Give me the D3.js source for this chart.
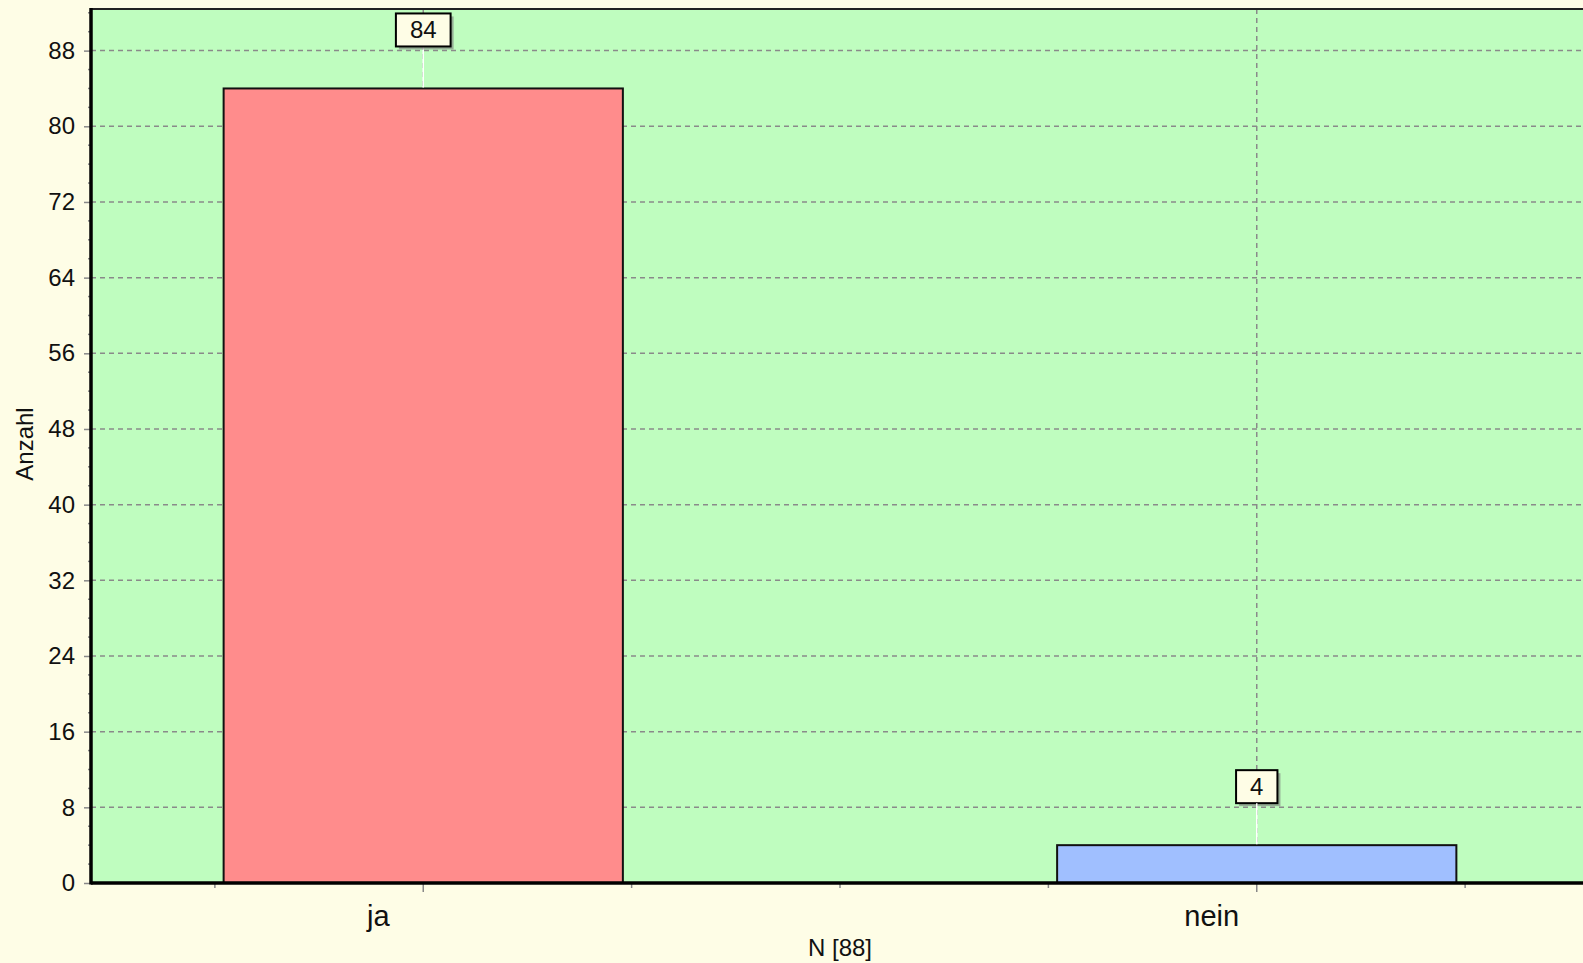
<!DOCTYPE html>
<html>
<head>
<meta charset="utf-8">
<script src="https://cdn.jsdelivr.net/npm/d3@7"></script>
<style>
  html, body { margin: 0; padding: 0; overflow: hidden; background: #FEFDE6; }
  svg { display: block; }
  text { font-family: "Liberation Sans", Arial, sans-serif; fill: #111; }
</style>
</head>
<body>
<svg id="chart" width="1583" height="963"></svg>
<script>
const categories = ["ja", "nein"];
const values = [84, 4];
const barColors = ["#FF8C8C", "#A0BFFF"];
const yTickValues = [0, 8, 16, 24, 32, 40, 48, 56, 64, 72, 80, 88];
const xTitle = "N [88]";
const yTitle = "Anzahl";

const W = 1583, H = 963;
const plotLeft = 91, plotTop = 9, plotBottom = 883;
const svg = d3.select("#chart");

const yMax = d3.max(values) * 1.1;
const y = d3.scaleLinear().domain([0, yMax]).range([plotBottom, plotTop]);
const x = d3.scaleBand().domain(categories).range([6.5, 1673.5]).paddingInner(0).paddingOuter(0);
const barW = x.bandwidth() * 0.479;
const cx = c => x(c) + x.bandwidth() / 2;

// plot background
svg.append("rect").attr("x", plotLeft).attr("y", plotTop)
  .attr("width", 1673.5 - plotLeft).attr("height", plotBottom - plotTop)
  .attr("fill", "#BFFDBF");

// horizontal grid
svg.append("g").selectAll("line").data(yTickValues.filter(d => d > 0)).join("line")
  .attr("x1", plotLeft).attr("x2", 1673.5)
  .attr("y1", d => y(d)).attr("y2", d => y(d))
  .attr("stroke", "#8a8a8a").attr("stroke-width", 1.5).attr("stroke-dasharray", "5,4");

// vertical grid at category centers
svg.append("g").selectAll("line").data(categories).join("line")
  .attr("x1", d => cx(d)).attr("x2", d => cx(d))
  .attr("y1", plotTop).attr("y2", plotBottom)
  .attr("stroke", "#8a8a8a").attr("stroke-width", 1.5).attr("stroke-dasharray", "5,4");

// bars
svg.append("g").selectAll("rect").data(categories).join("rect")
  .attr("x", d => cx(d) - barW / 2)
  .attr("y", (d, i) => y(values[i]))
  .attr("width", barW)
  .attr("height", (d, i) => y(0) - y(values[i]))
  .attr("fill", (d, i) => barColors[i])
  .attr("stroke", "#111").attr("stroke-width", 2);

// top border
svg.append("line").attr("x1", plotLeft).attr("x2", W).attr("y1", plotTop).attr("y2", plotTop)
  .attr("stroke", "#222").attr("stroke-width", 2.2);

// y axis
const yAxis = d3.axisLeft(y).tickValues(yTickValues).tickSize(7).tickPadding(8).tickFormat(d3.format("d"));
const gy = svg.append("g").attr("transform", `translate(${plotLeft},0)`).call(yAxis);
gy.select(".domain").remove();
gy.selectAll(".tick line").attr("stroke", "#888").attr("stroke-width", 1.5);
gy.selectAll(".tick text").style("font-size", "24px").attr("fill", "#111").attr("x", -16);

// y minor ticks
const minor = d3.range(0, yMax, 2).filter(v => v % 8 !== 0);
svg.append("g").selectAll("line").data(minor).join("line")
  .attr("x1", plotLeft - 3).attr("x2", plotLeft)
  .attr("y1", d => y(d)).attr("y2", d => y(d))
  .attr("stroke", "#888").attr("stroke-width", 1.5);

// x axis ticks
const xAxis = d3.axisBottom(x).tickSize(9).tickFormat("");
const gx = svg.append("g").attr("transform", `translate(0,${plotBottom})`).call(xAxis);
gx.select(".domain").remove();
gx.selectAll(".tick line").attr("stroke", "#888").attr("stroke-width", 1.5);

// x minor ticks (quarters of each band)
const xMinor = [];
categories.forEach(c => { xMinor.push(cx(c) - x.bandwidth() / 4, cx(c) + x.bandwidth() / 4, x(c) + x.bandwidth()); });
svg.append("g").selectAll("line").data(xMinor).join("line")
  .attr("x1", d => d).attr("x2", d => d)
  .attr("y1", plotBottom).attr("y2", plotBottom + 5)
  .attr("stroke", "#888").attr("stroke-width", 1.5);

// axis lines
svg.append("line").attr("x1", plotLeft).attr("x2", W).attr("y1", plotBottom).attr("y2", plotBottom)
  .attr("stroke", "#000").attr("stroke-width", 3.5);
svg.append("line").attr("x1", plotLeft).attr("x2", plotLeft).attr("y1", plotTop - 1).attr("y2", plotBottom + 1.5)
  .attr("stroke", "#000").attr("stroke-width", 3.5);

// x category labels
svg.append("g").selectAll("text").data(categories).join("text")
  .attr("x", d => cx(d) - 45).attr("y", 926)
  .attr("text-anchor", "middle").style("font-size", "29px")
  .text(d => d);

// axis titles
svg.append("text").attr("x", (6.5 + 1673.5) / 2).attr("y", 956)
  .attr("text-anchor", "middle").style("font-size", "24px").text(xTitle);
svg.append("text").attr("transform", "translate(33,444) rotate(-90)")
  .attr("text-anchor", "middle").style("font-size", "24px").text(yTitle);

// value labels
const lab = svg.append("g");
categories.forEach((c, i) => {
  const top = y(values[i]);
  const boxBottom = top - 42;
  const boxH = 33;
  lab.append("line").attr("x1", cx(c)).attr("x2", cx(c)).attr("y1", boxBottom).attr("y2", top - 1)
    .attr("stroke", "#fff").attr("stroke-width", 1.5);
  const t = lab.append("text").attr("x", cx(c)).attr("y", boxBottom - 8)
    .attr("text-anchor", "middle").style("font-size", "24px").text(values[i]);
  const tw = t.node().getComputedTextLength();
  const bw = tw + 28;
  lab.insert("rect", "text").attr("x", cx(c) - bw / 2 + 3).attr("y", boxBottom - boxH + 3)
    .attr("width", bw).attr("height", boxH).attr("fill", "#7a7a7a").attr("opacity", 0.6);
  lab.insert("rect", "text").attr("x", cx(c) - bw / 2).attr("y", boxBottom - boxH)
    .attr("width", bw).attr("height", boxH).attr("fill", "#FEFDE6")
    .attr("stroke", "#000").attr("stroke-width", 2);
  t.raise();
});
</script>
</body>
</html>
